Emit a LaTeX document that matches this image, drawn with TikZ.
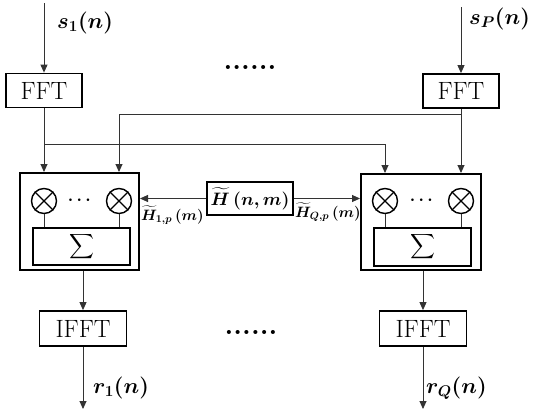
\RequirePackage{fix-cm}
\documentclass[tikz,border=0pt]{standalone}
\usepackage{amsmath,bm}
\usetikzlibrary{arrows.meta,calc}
\begin{document}
\begin{tikzpicture}[x=1pt,y=-1pt,
  fftbox/.style={draw,line width=1.8pt,minimum width=76pt,minimum height=34pt,inner sep=0pt,font=\fontsize{25}{28}\selectfont},
  ifftbox/.style={draw,line width=1.8pt,minimum width=87pt,minimum height=35pt,inner sep=0pt,font=\fontsize{25}{28}\selectfont},
  outerbox/.style={draw,line width=2pt,inner sep=0pt,minimum width=119pt,minimum height=97pt},
  sigbox/.style={draw,line width=1.6pt,inner sep=0pt,minimum width=97pt,minimum height=37pt,font=\fontsize{17}{19}\selectfont},
  hbox/.style={draw,line width=1.1pt,inner sep=0pt,minimum width=86pt,minimum height=33pt,font=\fontsize{18}{22}\selectfont\boldmath},
  mult/.style={draw,circle,line width=1.4pt,minimum size=25pt,inner sep=0pt},
  conn/.style={line width=0.9pt,draw=black!80},
  arr/.style={conn,-{Triangle[length=8pt,width=7pt]}},
  lab/.style={font=\fontsize{22}{26}\selectfont\boldmath,inner sep=0pt,anchor=west},
  smalllab/.style={font=\fontsize{15}{17}\selectfont\boldmath,inner sep=0pt,anchor=west},
  dotsty/.style={font=\fontsize{28}{30}\selectfont\bfseries,inner sep=0pt},
  cdotsty/.style={font=\fontsize{17}{19}\selectfont\boldmath,inner sep=0pt}
]
\useasboundingbox (0,0) rectangle (533,415);
% FFT boxes
\node[fftbox] (fftL) at (44,90.5) {FFT};
\node[fftbox] (fftR) at (461,91) {FFT};
\coordinate (inL) at (44,3);
\coordinate (inR) at (461,7);
\node[lab] (s1) at (57,23) {$s_1(n)$};
\node[lab] (sP) at (469,19) {$s_P(n)$};
\node[dotsty] (dtop) at (250,67) {......};
% combiner boxes
\node[outerbox] (boxL) at (79.5,221.5) {};
\node[outerbox,minimum width=120pt,minimum height=96pt] (boxR) at (421,222) {};
\node[mult] (cL1) at (44,201) {};
\node[mult] (cL2) at (119,201) {};
\node[mult] (cR1) at (385,201) {};
\node[mult] (cR2) at (461,201) {};
\foreach \c in {cL1,cL2,cR1,cR2}{
  \draw[line width=1.4pt] (\c.north west) -- (\c.south east) (\c.north east) -- (\c.south west);
}
\node[cdotsty] (dL) at (81,200) {$\cdots$};
\node[cdotsty] (dR) at (423,200) {$\cdots$};
\node[sigbox] (sigL) at (81.5,246.5) {$\displaystyle\sum$};
\node[sigbox,minimum height=38pt] (sigR) at (422.5,247) {$\displaystyle\sum$};
\foreach \c/\s in {cL1/sigL,cL2/sigL,cR1/sigR,cR2/sigR}{
  \draw[conn] (\c.south) -- (\c.south |- \s.north);
}
% channel box
\node[hbox] (H) at (250,198.5) {$\widetilde{H}\,(n,m)$};
\node[smalllab] (h1) at (141,215) {$\widetilde{H}_{1,p}\,(m)$};
\node[smalllab] (hQ) at (295,212) {$\widetilde{H}_{Q,p}\,(m)$};
% IFFT boxes
\node[ifftbox] (iL) at (83,328.5) {IFFT};
\node[ifftbox] (iR) at (423,328.5) {IFFT};
\node[dotsty] (dbot) at (251,332) {......};
\coordinate (oL) at (83,409);
\coordinate (oR) at (423,409);
\node[lab] (r1) at (93,388) {$r_1(n)$};
\node[lab] (rQ) at (426,388) {$r_Q(n)$};
% junctions
\coordinate (jL) at (44,144);
\coordinate (jR) at (461,114);
% connectors
\draw[arr] (inL) -- (fftL.north);
\draw[arr] (inR) -- (fftR.north);
\draw[arr] (fftL.south) -- (fftL.south |- boxL.north);
\draw[arr] (fftR.south) -- (fftR.south |- boxR.north);
\draw[arr] (jL) -| (cR1 |- boxR.north);
\draw[arr] (jR) -| (cL2 |- boxL.north);
\draw[arr] (H.west) -- (H.west -| boxL.east);
\draw[arr] (H.east) -- (H.east -| boxR.west);
\draw[arr] (iL.north |- boxL.south) -- (iL.north);
\draw[arr] (iR.north |- boxR.south) -- (iR.north);
\draw[arr] (iL.south) -- (oL);
\draw[arr] (iR.south) -- (oR);
\end{tikzpicture}
\end{document}
